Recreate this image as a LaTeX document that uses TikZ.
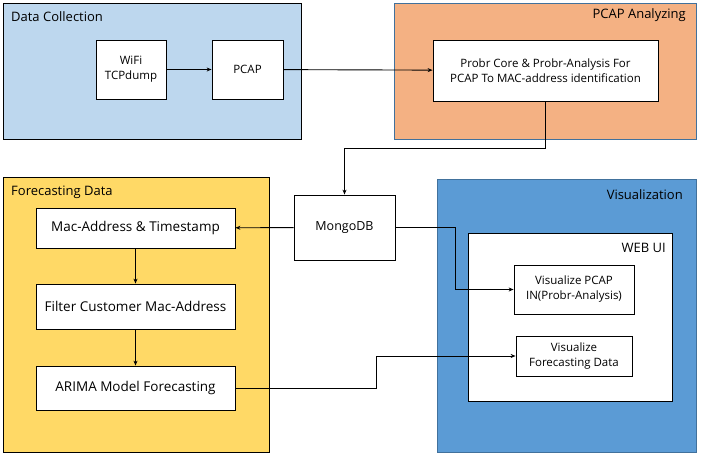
\documentclass[tikz,border=0pt]{standalone}
\usepackage{fontspec}
\setmainfont{Open Sans}
\usetikzlibrary{arrows.meta}
\definecolor{collectfill}{HTML}{BDD7EE}
\definecolor{analyzefill}{HTML}{F4B183}
\definecolor{forecastfill}{HTML}{FFD966}
\definecolor{visfill}{HTML}{5B9BD5}
\definecolor{visline}{HTML}{41719C}
\tikzset{
  stepbox/.style={draw=black, fill=white, line width=0.8pt, align=center,
                  inner sep=0pt, font=\fontsize{11.5}{15}\selectfont},
  bigstep/.style={stepbox, font=\fontsize{13.5}{16}\selectfont},
  grouptitle/.style={inner sep=0pt, font=\fontsize{13}{15}\selectfont},
  flow/.style={draw=black, line width=0.9pt, -{Stealth[length=5pt,width=4pt]}}
}

\begin{document}
\begin{tikzpicture}[x=1pt, y=-1pt]
  \newcommand{\wide}{199}
  \useasboundingbox (0,0) rectangle (702,454);

  % Draws the four group panels
  \draw[fill=collectfill, line width=0.8pt] (3,3) rectangle (301,139);
  \draw[fill=analyzefill, draw=visline, line width=0.8pt] (394,3) rectangle (696,139);
  \draw[fill=forecastfill, line width=0.8pt] (3,177) rectangle (269,452);
  \draw[fill=visfill, draw=visline, line width=0.8pt] (437,179) rectangle (696,452);
  \draw[fill=white, line width=0.8pt] (468,233) rectangle (672,401);

  \node[grouptitle, anchor=west] (collecttitle) at (11,17) {Data Collection};
  \node[grouptitle, anchor=east] (analyzetitle) at (686,15) {PCAP Analyzing};
  \node[grouptitle, anchor=west] (forecasttitle) at (11,192) {Forecasting Data};
  \node[grouptitle, anchor=east] (vistitle) at (683,195) {Visualization};
  \node[grouptitle, anchor=east] (webtitle) at (666,248) {WEB UI};

  % Draws the step boxes
  \node[stepbox, minimum width=70, minimum height=59] (wifi) at (131,69.5) {WiFi\\TCPdump};
  \node[stepbox, minimum width=71, minimum height=59] (pcap) at (247.5,69.5) {PCAP};
  \node[stepbox, minimum width=225, minimum height=61] (probr) at (545.5,70.5)
       {Probr Core \& Probr-Analysis For\\PCAP To MAC-address identification};
  \node[stepbox, font=\fontsize{12.5}{15}\selectfont, minimum width=101, minimum height=65]
       (mongo) at (344.5,227.5) {MongoDB};
  \node[bigstep, minimum width=\wide, minimum height=40] (mac) at (135.5,228) {Mac-Address \& Timestamp};
  \node[bigstep, minimum width=\wide, minimum height=45] (filter) at (135.5,306.5) {Filter Customer Mac-Address};
  \node[bigstep, minimum width=\wide, minimum height=44] (arima) at (135.5,388) {ARIMA Model Forecasting};
  \node[stepbox, minimum width=120, minimum height=49] (vispcap) at (574,289.5) {Visualize PCAP\\IN(Probr-Analysis)};
  \node[stepbox, minimum width=116, minimum height=40] (visfc) at (574,356) {Visualize\\Forecasting Data};

  % Draws the connectors
  \draw[flow] (wifi) -- (pcap);
  \draw[flow] (pcap) -- (probr);
  \draw[flow] (probr.south) -- ++(0,47) -| (mongo.north);
  \draw[flow] (mongo) -- (mac);
  \draw[flow] (mongo.east) -- ++(60,0) |- (vispcap.west);
  \draw[flow] (mac) -- (filter);
  \draw[flow] (filter) -- (arima);
  \draw[flow] (arima.east) -- ++(141,0) |- (visfc.west);
\end{tikzpicture}
\end{document}
